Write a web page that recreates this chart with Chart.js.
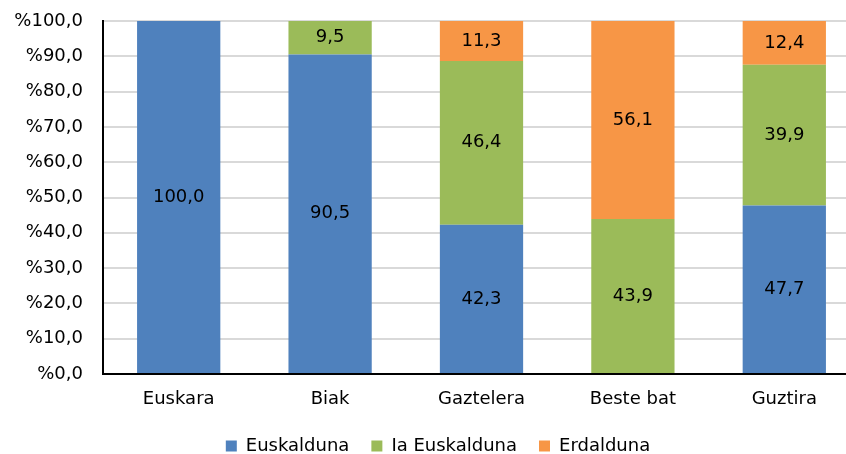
<!DOCTYPE html>
<html>
<head>
<meta charset="utf-8">
<script src="https://cdn.jsdelivr.net/npm/chart.js@4"></script>
<style>
  html, body { margin: 0; padding: 0; background: #fff; overflow: hidden; }
  #wrap { width: 846px; height: 454px; overflow: hidden; }
</style>
</head>
<body>
<div id="wrap"><canvas id="myChart" width="860" height="454"></canvas></div>
<script>
var kategoriak = ['Euskara', 'Biak', 'Gaztelera', 'Beste bat', 'Guztira'];
var euskalduna = [100.0, 90.5, 42.3, 0, 47.7];
var iaEuskalduna = [0, 9.5, 46.4, 43.9, 39.9];
var erdalduna = [0, 0, 11.3, 56.1, 12.4];

var letra = 'DejaVu Sans, Verdana, sans-serif';

function zenbakia(v) {
    return v.toFixed(1).replace('.', ',');
}

// balioak barren erdian idatzi
var balioEtiketak = {
    id: 'balioEtiketak',
    afterDatasetsDraw: function (chart) {
        var ctx = chart.ctx;
        ctx.save();
        ctx.font = '18px ' + letra;
        ctx.fillStyle = '#000';
        ctx.textAlign = 'center';
        ctx.textBaseline = 'middle';
        chart.data.datasets.forEach(function (ds, i) {
            var meta = chart.getDatasetMeta(i);
            meta.data.forEach(function (bar, j) {
                var v = ds.data[j];
                if (!v) return;
                var y = (bar.y + bar.base) / 2;
                ctx.fillText(zenbakia(v), bar.x, y);
            });
        });
        ctx.restore();
    }
};

// legenda pixka bat eskuinera
var legendaMugitu = {
    id: 'legendaMugitu',
    afterLayout: function (chart) {
        if (chart.legend) {
            chart.legend.left += 8;
            chart.legend.right += 8;
        }
    }
};

var ctx = document.getElementById('myChart').getContext('2d');

var myChart = new Chart(ctx, {
    type: 'bar',
    data: {
        labels: kategoriak,
        datasets: [
            { label: 'Euskalduna', data: euskalduna, backgroundColor: '#4F81BD' },
            { label: 'Ia Euskalduna', data: iaEuskalduna, backgroundColor: '#9BBB59' },
            { label: 'Erdalduna', data: erdalduna, backgroundColor: '#F79646' }
        ]
    },
    options: {
        responsive: false,
        animation: false,
        layout: { padding: { top: 21, left: 0, right: 0, bottom: 0 } },
        datasets: {
            bar: { barPercentage: 0.55, categoryPercentage: 1.0 }
        },
        scales: {
            x: {
                stacked: true,
                afterFit: function (scale) { scale.height = 41; },
                grid: { display: false, drawTicks: false },
                border: { color: '#000', width: 2 },
                ticks: { color: '#000', font: { family: letra, size: 18 }, padding: 15 }
            },
            y: {
                stacked: true,
                min: 0,
                max: 100,
                afterFit: function (scale) {
                    scale.width = 103;
                    scale.paddingTop = 0;
                },
                grid: { color: '#d9d9d9', lineWidth: 2, drawTicks: false },
                border: { color: '#000', width: 2 },
                ticks: {
                    stepSize: 10,
                    color: '#000',
                    padding: 20,
                    font: { family: letra, size: 18 },
                    callback: function (v) { return '%' + zenbakia(v); }
                }
            }
        },
        plugins: {
            legend: {
                position: 'bottom',
                maxHeight: 39,
                labels: {
                    boxWidth: 11,
                    boxHeight: 11,
                    padding: 22,
                    color: '#000',
                    font: { family: letra, size: 18 }
                }
            },
            tooltip: { enabled: false }
        }
    },
    plugins: [balioEtiketak, legendaMugitu]
});
</script>
</body>
</html>
